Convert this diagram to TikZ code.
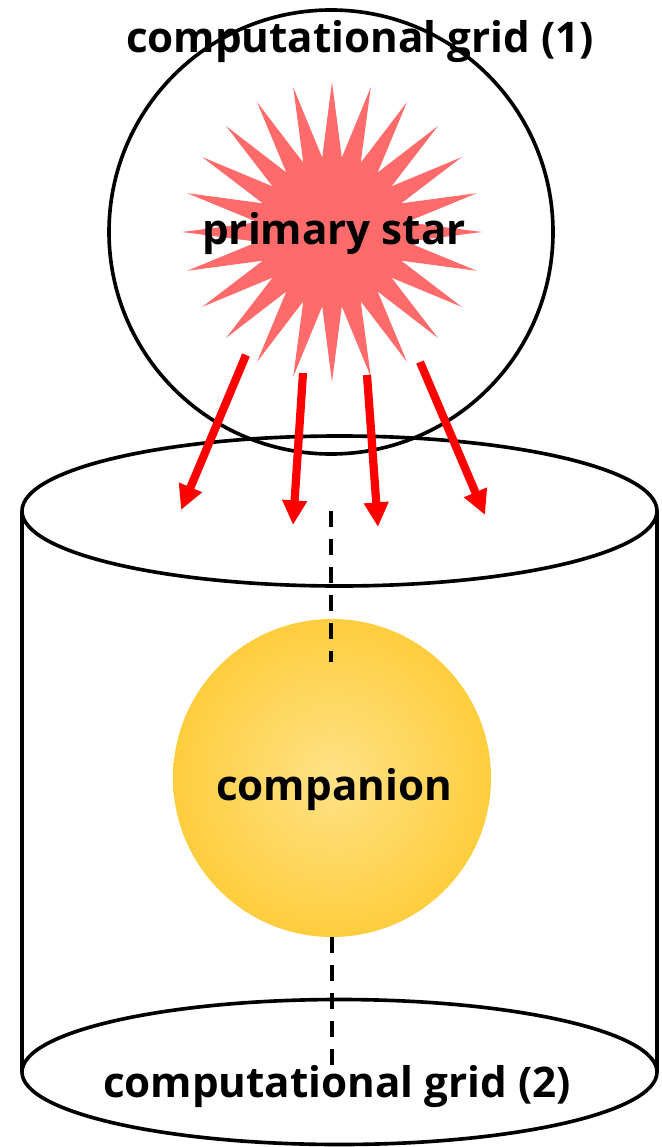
\documentclass[tikz,border=0pt]{standalone}
\usepackage{fontspec}
\setmainfont{Open Sans}
\usetikzlibrary{shapes.geometric, arrows.meta}

\definecolor{starpink}{RGB}{255,107,107}
\definecolor{raycol}{RGB}{255,0,0}
\definecolor{compcore}{RGB}{255,226,135}
\definecolor{compmid}{RGB}{254,208,70}
\definecolor{compedge}{RGB}{252,190,22}
\pgfdeclareradialshading{companionglow}{\pgfpoint{0bp}{0bp}}{color(0bp)=(compcore); color(22bp)=(compmid); color(42bp)=(compedge); color(50bp)=(compedge)}

\tikzset{
  lbl/.style={font=\bfseries\fontsize{36}{40}\selectfont, inner sep=0pt},
  gridline/.style={draw, line width=3.1pt, outer sep=0pt, inner sep=0pt},
  ray/.style={raycol, line width=7pt, -{Triangle[length=21pt, width=20pt]}},
  axis/.style={line width=3.3pt, dash pattern=on 13.7pt off 10.2pt},
}

\begin{document}
\begin{tikzpicture}[x=0.3mm, y=-0.3mm, line join=round]
\useasboundingbox (0,0) rectangle (661,1147);

% grid (1) around the primary
\node[circle, gridline, minimum size=133.2mm] (grid1) at (331,232) {};

% cylinder of grid (2)
\node[ellipse, gridline, minimum width=190.5mm, minimum height=45mm] (cyltop) at (339.5,511) {};
\node[ellipse, gridline, minimum width=190.5mm, minimum height=43.5mm] (cylbot) at (339.5,1072) {};
\draw[gridline] (cyltop.west) -- (cylbot.west);
\draw[gridline] (cyltop.east) -- (cylbot.east);

% primary star
\node[star, star points=24, star point ratio=2, fill=starpink, minimum size=90mm, inner sep=0pt] (primary) at (332,232) {};
\node[lbl] (primarylbl) at (334,234) {primary star};

% rays towards the companion
\coordinate (r1a) at (246,355); \coordinate (r1b) at (181,510);
\coordinate (r2a) at (303,373); \coordinate (r2b) at (293,525);
\coordinate (r3a) at (367,375); \coordinate (r3b) at (378,527);
\coordinate (r4a) at (420,362); \coordinate (r4b) at (485,515);
\foreach \i in {1,...,4}
  \draw[ray] (r\i a) -- (r\i b);

% companion
\node[circle, shading=companionglow, minimum size=95.4mm, inner sep=0pt] (companion) at (332,778) {};
\node[lbl] (companionlbl) at (334,790) {companion};

% axis of the cylinder
\coordinate (axtop) at (331,511);
\coordinate (axmid) at (331,662);
\coordinate (axbot) at (332,1068);
\draw[axis] (axtop) -- (axmid);
\draw[axis] (companion.south) -- (axbot);

% grid labels
\node[lbl] (grid1lbl) at (360,42) {computational grid (1)};
\node[lbl] (grid2lbl) at (337,1087) {computational grid (2)};
\end{tikzpicture}
\end{document}
